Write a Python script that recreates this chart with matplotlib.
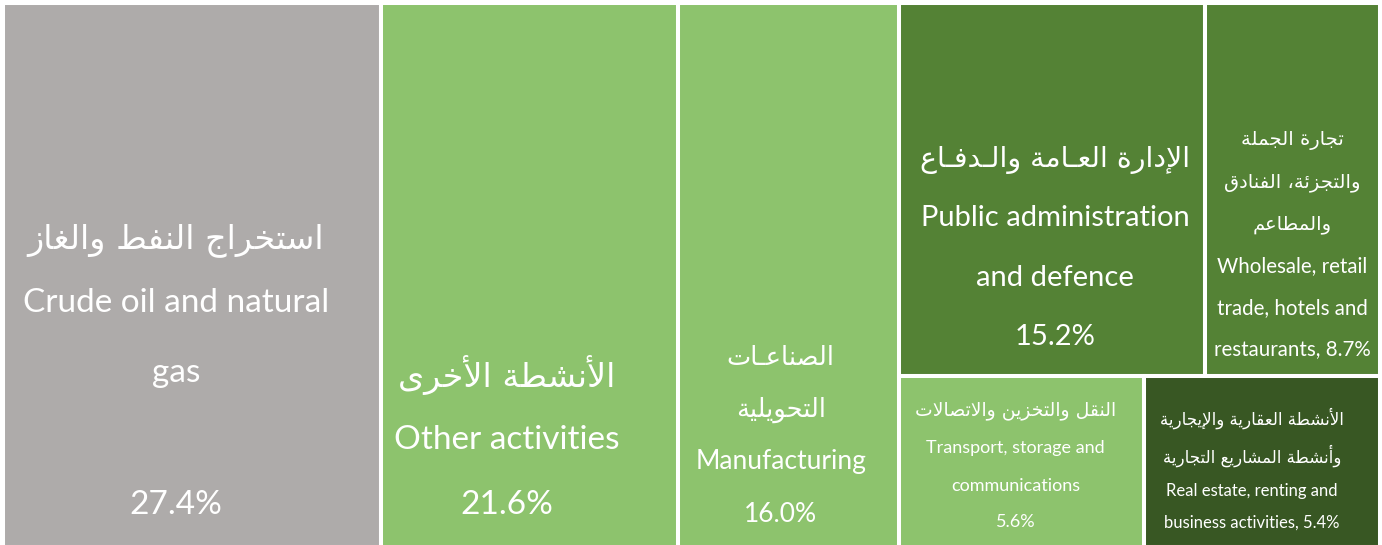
import matplotlib
matplotlib.use("Agg")
import matplotlib.pyplot as plt
from matplotlib.patches import Rectangle

# sector shares of GDP (%)
shares = [27.4, 21.6, 16.0, 15.2, 8.7, 5.6, 5.4]
labels_en = ["Crude oil and natural\ngas",
             "Other activities",
             "Manufacturing",
             "Public administration\nand defence",
             "Wholesale, retail\ntrade, hotels and\nrestaurants",
             "Transport, storage and\ncommunications",
             "Real estate, renting and\nbusiness activities"]
labels_ar = ["استخراج النفط والغاز",
             "الأنشطة الأخرى",
             "الصناعـات\nالتحويلية",
             "الإدارة العـامة والـدفـاع",
             "تجارة الجملة\nوالتجزئة، الفنادق\nوالمطاعم",
             "النقل والتخزين والاتصالات",
             "الأنشطة العقارية والإيجارية\nوأنشطة المشاريع التجارية"]
pct_sep = ["\n", "\n", "\n", "\n", ", ", "\n", ", "]

colors = ["#AEABAA", "#8DC36D", "#8DC36D", "#548235", "#548235", "#8DC36D", "#385723"]

# text layout per box: x shift, line offsets from box top (px), arabic size, english size
text_layout = [
    (-16, [237, 300, 370, 502], 24, 24),
    (-23, [372, 437, 502], 24, 24),
    (-8, [355, 407, 459, 511], 18.5, 19),
    (3, [157, 215, 275, 334], 20.5, 21),
    (0, [138, 180, 222, 263, 305, 346], 14, 14.8),
    (-6, [35, 72, 110, 146], 13.5, 13),
    (-10, [43, 80, 115, 147], 12, 12),
]

# --- minimal arabic shaping (matplotlib has no bidi / joining support) ---
FORMS = {
    'ء': (0xFE80, 1), 'آ': (0xFE81, 2), 'أ': (0xFE83, 2), 'ؤ': (0xFE85, 2),
    'إ': (0xFE87, 2), 'ئ': (0xFE89, 4), 'ا': (0xFE8D, 2), 'ب': (0xFE8F, 4),
    'ة': (0xFE93, 2), 'ت': (0xFE95, 4), 'ث': (0xFE99, 4), 'ج': (0xFE9D, 4),
    'ح': (0xFEA1, 4), 'خ': (0xFEA5, 4), 'د': (0xFEA9, 2), 'ذ': (0xFEAB, 2),
    'ر': (0xFEAD, 2), 'ز': (0xFEAF, 2), 'س': (0xFEB1, 4), 'ش': (0xFEB5, 4),
    'ص': (0xFEB9, 4), 'ض': (0xFEBD, 4), 'ط': (0xFEC1, 4), 'ظ': (0xFEC5, 4),
    'ع': (0xFEC9, 4), 'غ': (0xFECD, 4), 'ف': (0xFED1, 4), 'ق': (0xFED5, 4),
    'ك': (0xFED9, 4), 'ل': (0xFEDD, 4), 'م': (0xFEE1, 4), 'ن': (0xFEE5, 4),
    'ه': (0xFEE9, 4), 'و': (0xFEED, 2), 'ى': (0xFEEF, 2), 'ي': (0xFEF1, 4),
}
LAM_ALEF = {'آ': 0xFEF5, 'أ': 0xFEF7, 'إ': 0xFEF9, 'ا': 0xFEFB}
TATWEEL = 'ـ'


def joins_next(c):
    return c == TATWEEL or FORMS.get(c, (0, 0))[1] == 4


def joins_prev(c):
    return c == TATWEEL or FORMS.get(c, (0, 0))[1] >= 2


def shape(s):
    out = []
    i = 0
    while i < len(s):
        c = s[i]
        p = i > 0 and joins_next(s[i - 1]) and joins_prev(c)
        if c == 'ل' and i + 1 < len(s) and s[i + 1] in LAM_ALEF:
            out.append(chr(LAM_ALEF[s[i + 1]] + (1 if p else 0)))
            i += 2
            continue
        if c not in FORMS:
            out.append(c)
            i += 1
            continue
        base, n = FORMS[c]
        nx = i + 1 < len(s) and n == 4 and joins_prev(s[i + 1])
        if p and nx:
            k = 3
        elif nx:
            k = 2
        elif p:
            k = 1
        else:
            k = 0
        out.append(chr(base + k))
        i += 1
    return ''.join(reversed(out))


# --- treemap layout: three full height columns, then a 2x2 block ---
X0, X1, Y0, Y1 = 3, 1380, 3, 547
total = sum(shares)
rects = []
x = X0
for v in shares[:3]:
    w = (X1 - X0) * v / total
    rects.append((x, Y0, w, Y1 - Y0))
    x += w
rest = shares[3:]
top = rest[0] + rest[1]
h_top = (Y1 - Y0) * top / sum(rest)
bx = x
for v in rest[:2]:
    w = (X1 - x) * v / top
    rects.append((bx, Y0, w, h_top))
    bx += w
bot = rest[2] + rest[3]
bx = x
for v in rest[2:]:
    w = (X1 - x) * v / bot
    rects.append((bx, Y0 + h_top, w, Y1 - Y0 - h_top))
    bx += w

fig = plt.figure(figsize=(13.82, 5.45), dpi=100)
ax = fig.add_axes([0, 0, 1, 1])
ax.set_xlim(0, 1382)
ax.set_ylim(545, 0)
ax.axis("off")

for i, (rx, ry, rw, rh) in enumerate(rects):
    ax.add_patch(Rectangle((rx, ry), rw, rh, facecolor=colors[i],
                           edgecolor="white", linewidth=2.9))
    dx, offs, fs_ar, fs_en = text_layout[i]
    ar_lines = labels_ar[i].split("\n")
    en_lines = (labels_en[i] + pct_sep[i] + "%.1f%%" % shares[i]).split("\n")
    cx = rx + rw / 2 + dx
    k = 0
    for line in ar_lines:
        ax.text(cx, ry + offs[k], shape(line), ha="center", va="center",
                color="white", fontsize=fs_ar, family="DejaVu Sans")
        k += 1
    for line in en_lines:
        ax.text(cx, ry + offs[k], line, ha="center", va="center",
                color="white", fontsize=fs_en, family=["Lato", "DejaVu Sans"])
        k += 1

fig.savefig("out.png", dpi=100)
